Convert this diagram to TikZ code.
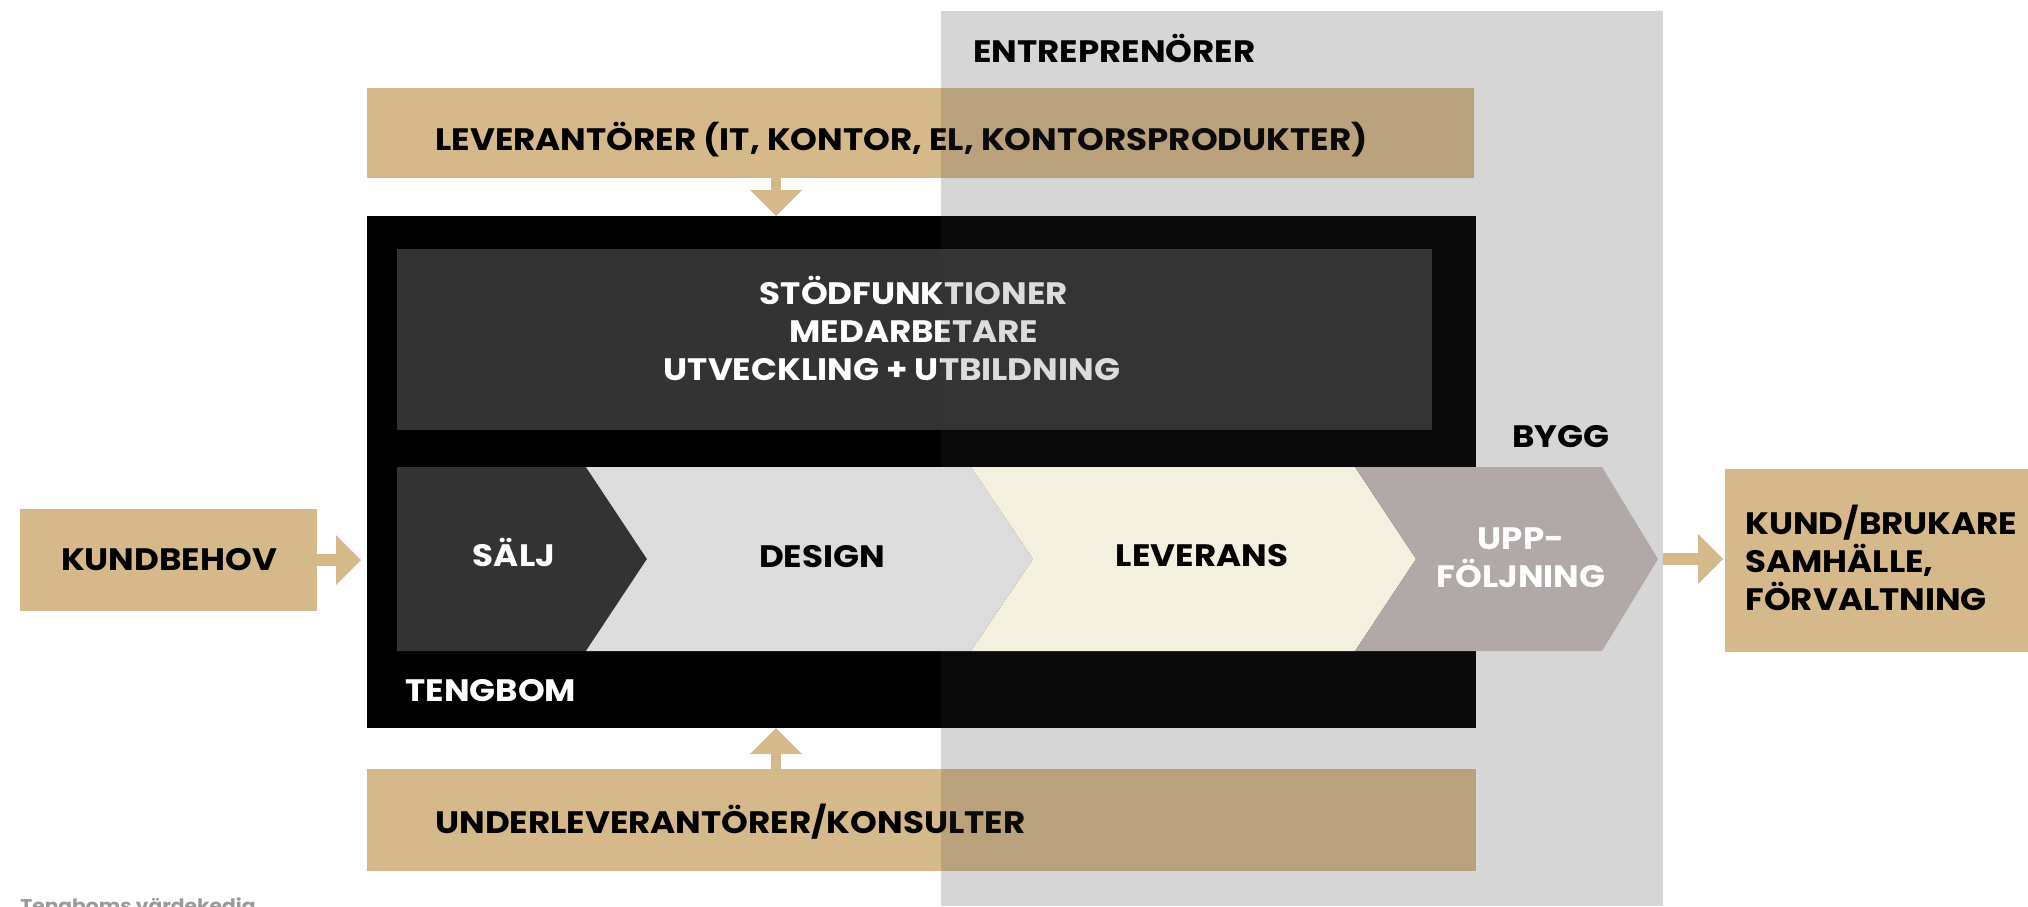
\documentclass[tikz,border=0pt]{standalone}
\usepackage{fontspec}
\setmainfont{Poppins}[BoldFeatures={FakeStretch=1.1}]
\usetikzlibrary{arrows.meta}

\definecolor{tgold}{HTML}{D5B98A}
\definecolor{bandgrey}{HTML}{D6D6D6}
\definecolor{shadegrey}{HTML}{393939}
\definecolor{darkbox}{HTML}{333333}
\definecolor{designgrey}{HTML}{DCDCDC}
\definecolor{cream}{HTML}{F3F0DF}
\definecolor{taupe}{HTML}{B0A9A7}
\definecolor{notegrey}{HTML}{999999}

\newcommand\vkfont{\fontsize{15.5}{19}\selectfont\bfseries}

\begin{document}
\begin{tikzpicture}[x=0.5pt, y=-0.5pt,
  box/.style={inner sep=0pt, outer sep=0pt, anchor=north west},
  lbl/.style={inner sep=0pt, font=\vkfont},
  shade/.style={fill=shadegrey, fill opacity=0.176},
  flow/.style={tgold, line width=5pt, -{Triangle[width=26pt,length=13pt,line width=0pt]}},
  sideflow/.style={tgold, line width=6pt, -{Triangle[width=25pt,length=12.5pt,line width=0pt]}}
  ]
  \useasboundingbox (0,0) rectangle (2028,906);

  % entreprenoerer band
  \node (band) [box, fill=bandgrey, minimum width=361pt, minimum height=447.5pt] at (941,11) {};
  \node (entre) [lbl, anchor=base west] at (973,62) {ENTREPRENÖRER};
  \node (bygg) [lbl, anchor=base west] at (1512,447) {BYGG};

  % suppliers and core
  \node (lev) [box, fill=tgold, minimum width=553.5pt, minimum height=45pt] at (367,88) {};
  \node (under) [box, fill=tgold, minimum width=554.5pt, minimum height=51pt] at (367,769) {};
  \node (core) [box, fill=black, minimum width=554.5pt, minimum height=256pt] at (367,216) {};
  \node (stod) [box, fill=darkbox, minimum width=517.5pt, minimum height=90.5pt] at (397,249) {};

  \node (levtext) [lbl, anchor=base west] at (435,150) {LEVERANTÖRER (IT, KONTOR, EL, KONTORSPRODUKTER)};
  \node (undertext) [lbl, anchor=base west] at (435,833) {UNDERLEVERANTÖRER/KONSULTER};
  \node (stodtext) [lbl, white, align=center, anchor=base] at (914,380)
    {STÖDFUNKTIONER\\MEDARBETARE\\UTVECKLING + UTBILDNING\hspace*{22pt}};
  \node (tengbom) [lbl, white, anchor=base west] at (405,701) {TENGBOM};

  % band seen through the boxes
  \fill[shade] (941,88) rectangle (1474,178);
  \fill[shade] (941,216) rectangle (1476,728);
  \fill[shade] (941,769) rectangle (1476,871);

  % value chain
  \fill[darkbox] (397,467) -- (586,467) -- (647,559) -- (586,651) -- (397,651) -- cycle;
  \fill[designgrey] (586,467) -- (971,467) -- (1033,559) -- (971,651) -- (586,651) -- (647,559) -- cycle;
  \fill[cream] (971,467) -- (1355,467) -- (1416,559) -- (1355,651) -- (971,651) -- (1033,559) -- cycle;
  \fill[taupe] (1355,467) -- (1602,467) -- (1658,559) -- (1602,651) -- (1355,651) -- (1416,559) -- cycle;
  \coordinate (upptip) at (1658,559);

  \node (salj) [lbl, white, anchor=base] at (514,566) {SÄLJ};
  \node (design) [lbl, anchor=base] at (822,567) {DESIGN};
  \node (leverans) [lbl, anchor=base] at (1202,566) {LEVERANS};
  \node (upp) [lbl, white, align=center, anchor=base] at (1521,587) {UPP-\\FÖLJNING};

  % customers
  \node (kb) [box, fill=tgold, minimum width=148.5pt, minimum height=51pt] at (20,509) {};
  \node (kbtext) [lbl, anchor=base] at (169,570) {KUNDBEHOV};
  \node (kund) [box, fill=tgold, minimum width=151.5pt, minimum height=91.5pt] at (1725,469) {};
  \node (kundtext) [lbl, align=left, anchor=base west] at (1745,610)
    {KUND/BRUKARE\\SAMHÄLLE,\\FÖRVALTNING};

  % arrows
  \coordinate (col) at (776,0);
  \draw[flow] (lev.south -| col) -- (core.north -| col);
  \draw[flow] (under.north -| col) -- (core.south -| col);
  \draw[sideflow, shorten >=3pt] (kb.east) -- (kb.east -| core.west);
  \draw[sideflow, shorten <=2.5pt, shorten >=1pt] (upptip) -- (upptip -| kund.west);

  \node (note) [inner sep=0pt, anchor=base west, notegrey, font=\fontsize{9.2}{11}\selectfont\bfseries] at (20,912) {Tengboms värdekedja};
\end{tikzpicture}
\end{document}
